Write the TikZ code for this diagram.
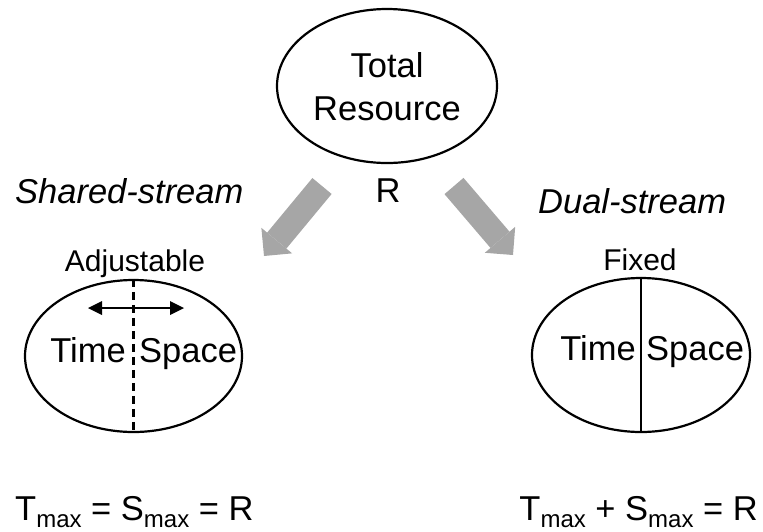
\documentclass[tikz,border=0pt]{standalone}
\usepackage{fontspec}
\setmainfont{Liberation Sans}
\usetikzlibrary{shapes.geometric,arrows.meta}
\definecolor{arrowgray}{HTML}{A6A6A6}
\tikzset{
  oval/.style={draw, ellipse, line width=2.2pt, inner sep=0pt},
  bigtext/.style={inner sep=0pt, font=\fontsize{34.5}{43}\selectfont},
  midtext/.style={inner sep=0pt, font=\fontsize{30}{34}\selectfont},
  bigarrow/.style={line width=25pt, arrowgray,
    -{Triangle[length=20pt,width=40pt,line width=0pt]}},
  slider/.style={line width=2.5pt,
    {Triangle[length=14pt,width=14pt,line width=0pt]}-{Triangle[length=14pt,width=14pt,line width=0pt]}},
  divider/.style={line width=2.2pt}
}
\newcommand{\subm}{\raisebox{-7pt}{\fontsize{24}{24}\selectfont max}}
\begin{document}
\begin{tikzpicture}[x=1pt,y=-1pt]
\useasboundingbox (0,0) rectangle (763,531);
% top
\node[oval, minimum width=220pt, minimum height=154pt] (top) at (387,86) {};
\node[bigtext, align=center] (toptext) at (387,86.5) {Total\\Resource};
\node[bigtext, anchor=base] (R) at (388,202) {R};
% labels
\node[bigtext, anchor=base west, font=\fontsize{34.5}{38}\selectfont\itshape] (shared) at (15,203) {Shared-stream};
\node[bigtext, anchor=base west, font=\fontsize{34.5}{38}\selectfont\itshape] (dual) at (538,213) {Dual-stream};
% gray arrows
\coordinate (la) at (322,186);
\coordinate (lb) at (264,256);
\coordinate (ra) at (454,186);
\coordinate (rb) at (513,255);
\draw[bigarrow] (la) -- (lb);
\draw[bigarrow] (ra) -- (rb);
% left ellipse
\node[oval, minimum width=217pt, minimum height=152pt] (L) at (133.5,356) {};
\node[midtext, anchor=base] (adj) at (135,271) {Adjustable};
\draw[divider, dash pattern=on 8pt off 5pt] (L.north) -- (L.south);
\coordinate (s1) at (88,308);
\coordinate (s2) at (184,308);
\draw[slider] (s1) -- (s2);
\node[bigtext, anchor=base east] (lt) at (126,362) {Time};
\node[bigtext, anchor=base west] (ls) at (139,362) {Space};
% right ellipse
\node[oval, minimum width=218pt, minimum height=154pt] (Rt) at (641,355) {};
\node[midtext, anchor=base] (fix) at (640,270) {Fixed};
\draw[divider] (Rt.north) -- (Rt.south);
\node[bigtext, anchor=base east] (rt) at (636,360) {Time};
\node[bigtext, anchor=base west] (rs) at (646,360) {Space};
% equations
\node[bigtext, anchor=base west] (eq1) at (15,520) {T\subm{} = S\subm{} = R};
\node[bigtext, anchor=base east] (eq2) at (758,520) {T\subm{} + S\subm{} = R};
\end{tikzpicture}
\end{document}
